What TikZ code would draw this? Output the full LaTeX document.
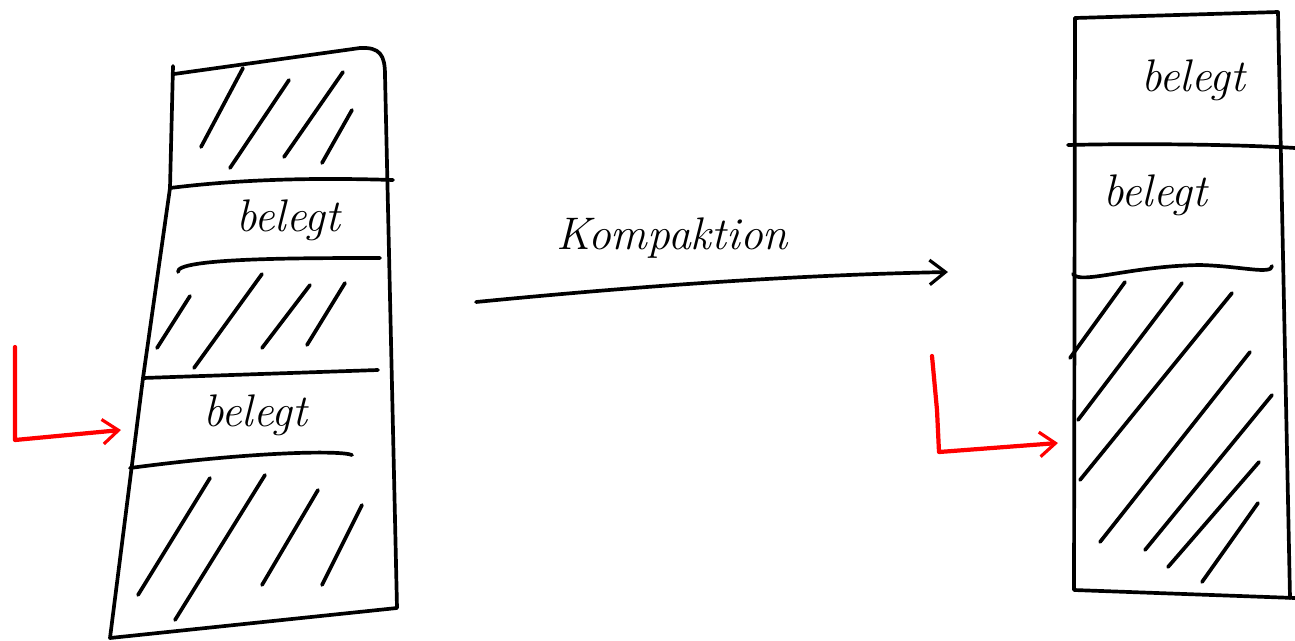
\documentclass[tikz,border=0pt]{standalone}
\usetikzlibrary{arrows.meta}
\begin{document}
\begin{tikzpicture}[x=0.02cm,y=-0.02cm,
  pen/.style={line width=2.1pt,line cap=round,line join=round,black},
  redpen/.style={line width=2.4pt,line cap=round,line join=round,red},
  lbl/.style={font=\itshape\fontsize{26}{30}\selectfont,inner sep=0pt},
  arr/.style={-{Straight Barb[length=9pt,width=14pt,line width=1.8pt]}}]
\useasboundingbox (0,0) rectangle (1295,640);
% left column
\draw[pen] (170,188) -- (173,66) (174,74) -- (360,48) .. controls (380,47) and (385,55) .. (385,75)
  -- (397,608) -- (110,638) -- (143,378) -- (170,188);
\draw[pen] (170,188) .. controls (250,178) and (330,178) .. (393,180);
\draw[pen] (178,272) .. controls (175,258) and (300,258) .. (380,258);
\draw[pen] (143,378) -- (378,370);
\draw[pen] (130,468) .. controls (250,452) and (340,450) .. (352,455);
% hatching left
\foreach \a/\b/\c/\d in {201/147/243/68, 230/168/289/80, 284/157/343/72, 322/163/352/110,
  157/348/190/296, 194/368/262/274, 262/348/310/285, 307/345/345/283,
  138/595/210/478, 175/620/265/475, 262/585/318/490, 322/585/362/505}
  \draw[pen] (\a,\b) -- (\c,\d);
% right column
\draw[pen] (1075,18) -- (1278,12) -- (1290,598);
\draw[pen] (1075,18) -- (1074,590) -- (1295,598);
\draw[pen] (1068,145) .. controls (1150,143) and (1250,145) .. (1295,148);
\draw[pen] (1073,274) .. controls (1080,285) and (1130,266) .. (1200,265) .. controls (1240,266) and (1272,275) .. (1272,266);
\foreach \a/\b/\c/\d in {1070/358/1125/282, 1078/420/1182/283, 1080/480/1232/293,
  1100/542/1250/352, 1145/550/1272/395, 1168/567/1259/462, 1202/582/1258/503}
  \draw[pen] (\a,\b) -- (\c,\d);
% labels
\node[lbl] (b1) at (288,220) {belegt};
\node[lbl] (b2) at (255,415) {belegt};
\node[lbl] (b3) at (1193,80) {belegt};
\node[lbl] (b4) at (1155,195) {belegt};
\node[lbl] (k) at (672,238) {Kompaktion};
% compaction arrow
\coordinate (as) at (476,302);
\coordinate (ae) at (948,272);
\draw[pen,arr] (as) .. controls (650,285) and (800,275) .. (ae);
% red arrows
\coordinate (r1s) at (15,347);
\coordinate (r1c) at (15,440);
\coordinate (r1e) at (121,430);
\draw[redpen,arr] (r1s) -- (r1c) -- (r1e);
\coordinate (r2s) at (932,356);
\coordinate (r2c) at (939,452);
\coordinate (r2e) at (1058,443);
\draw[redpen,arr] (r2s) -- (937,410) -- (r2c) -- (r2e);
\end{tikzpicture}
\end{document}
